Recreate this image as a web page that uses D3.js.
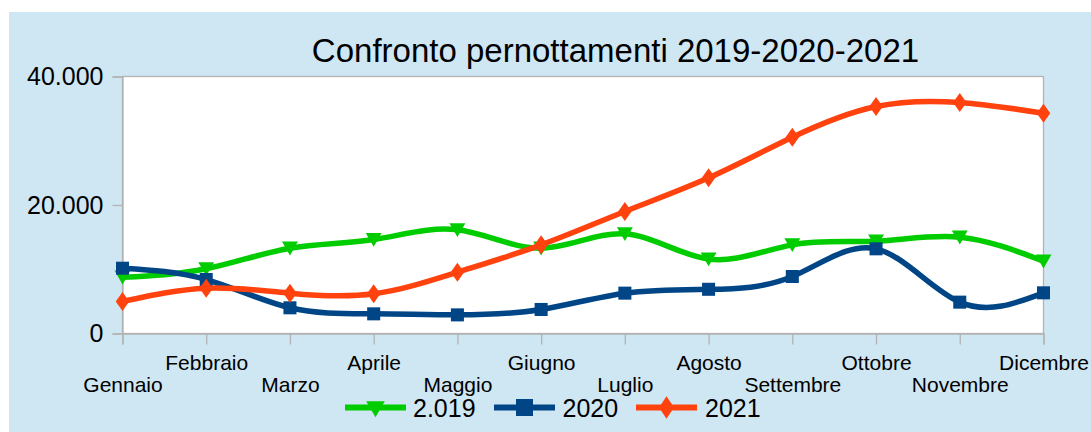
<!DOCTYPE html>
<html>
<head>
<meta charset="utf-8">
<script src="https://cdn.jsdelivr.net/npm/d3@7"></script>
<style>
  html, body { margin: 0; padding: 0; background: #ffffff; }
  svg { display: block; font-family: "Liberation Sans", Arial, sans-serif; }
</style>
</head>
<body>
<svg id="chart" width="1091" height="432"></svg>
<script>
const months = ["Gennaio","Febbraio","Marzo","Aprile","Maggio","Giugno","Luglio","Agosto","Settembre","Ottobre","Novembre","Dicembre"];
const values2019 = [8760, 10070, 13280, 14630, 16140, 13280, 15520, 11580, 13800, 14370, 14990, 11250];
const values2020 = [10160, 8400, 4000, 3060, 2900, 3740, 6280, 6880, 8870, 13180, 4880, 6330];
const values2021 = [4980, 7050, 6270, 6180, 9540, 13800, 18990, 24230, 30550, 35330, 35950, 34290];
const seriesNames = ["2.019", "2020", "2021"];
const yTicks = [0, 20000, 40000];
const titleText = "Confronto pernottamenti 2019-2020-2021";

const colors = ["#00cc00", "#004586", "#ff420e"];
const symbols = [d3.symbolTriangle, d3.symbolSquare, d3.symbolDiamond];
const allValues = [values2019, values2020, values2021];

const svg = d3.select("#chart");
const W = 1091, H = 432;
const plot = { left: 122.5, top: 76.5, right: 1043.5, bottom: 333.5 };

// background
svg.append("rect").attr("x", 9).attr("y", 12).attr("width", W - 9).attr("height", H - 12).attr("fill", "#cfe6f3");
svg.append("rect").attr("x", plot.left).attr("y", plot.top)
  .attr("width", plot.right - plot.left).attr("height", plot.bottom - plot.top)
  .attr("fill", "#ffffff").attr("stroke", "#b3b3b3").attr("stroke-width", 1.3);

const x = d3.scalePoint().domain(months).range([plot.left, plot.right]);
const y = d3.scaleLinear().domain([0, 40000]).range([plot.bottom, plot.top]);

const it = d3.formatLocale({ decimal: ",", thousands: ".", grouping: [3], currency: ["€", ""] });
const fmt = it.format(",d");

// y axis
const yAxis = d3.axisLeft(y).tickValues(yTicks).tickFormat(fmt).tickSize(10).tickPadding(9);
const gy = svg.append("g").attr("transform", `translate(${plot.left},0)`).call(yAxis);
gy.select(".domain").attr("stroke", "#b3b3b3").attr("stroke-width", 1.3);
gy.selectAll(".tick line").attr("stroke", "#b3b3b3").attr("stroke-width", 1.3);
gy.selectAll(".tick text").attr("font-size", "25px").attr("fill", "#000").attr("font-family", "Liberation Sans, Arial, sans-serif");

// x axis
const xAxis = d3.axisBottom(x).tickSize(11).tickPadding(8);
const gx = svg.append("g").attr("transform", `translate(0,${plot.bottom})`).call(xAxis);
gx.select(".domain").attr("stroke", "#b3b3b3").attr("stroke-width", 1.3);
gx.selectAll(".tick line").attr("stroke", "#b3b3b3").attr("stroke-width", 1.3);
gx.selectAll(".tick text")
  .attr("font-size", "21px").attr("fill", "#000").attr("font-family", "Liberation Sans, Arial, sans-serif")
  .attr("dy", null)
  .attr("y", (d, i) => i % 2 === 1 ? 36.5 : 58.5);

// lines
const line = d3.line().x((d, i) => x(months[i])).y(d => y(d)).curve(d3.curveNatural);
allValues.forEach((vals, s) => {
  const g = svg.append("g");
  g.append("path").datum(vals).attr("d", line)
    .attr("fill", "none").attr("stroke", colors[s]).attr("stroke-width", 5.5).attr("stroke-linejoin", "round");
  g.selectAll("path.m").data(vals).enter().append("path").attr("class", "m")
    .attr("d", d3.symbol().type(symbols[s]).size(s === 0 ? 110 : s === 1 ? 170 : 130))
    .attr("transform", (d, i) => `translate(${x(months[i])},${y(d)})${s === 0 ? " rotate(180) translate(0,2)" : ""}${s === 2 ? " scale(1.1,0.9)" : ""}`)
    .attr("fill", colors[s]);
});

// title
svg.append("text").attr("x", 615.5).attr("y", 62).attr("text-anchor", "middle")
  .attr("font-size", "33px").attr("fill", "#000").text(titleText);

// legend
const legendItems = [
  { lx: 345, tx: 413 },
  { lx: 494, tx: 562.5 },
  { lx: 636, tx: 705 }
];
const ly = 407.5;
legendItems.forEach((it, s) => {
  const g = svg.append("g");
  g.append("line").attr("x1", it.lx).attr("x2", it.lx + 61).attr("y1", ly).attr("y2", ly)
    .attr("stroke", colors[s]).attr("stroke-width", 6);
  g.append("path")
    .attr("d", d3.symbol().type(symbols[s]).size(s === 0 ? 150 : s === 1 ? 290 : 160))
    .attr("transform", `translate(${it.lx + 30.5},${ly})${s === 0 ? " rotate(180) translate(0,1)" : ""}${s === 2 ? " scale(1.1,0.95)" : ""}`)
    .attr("fill", colors[s]);
  g.append("text").attr("x", it.tx).attr("y", ly + 9).attr("font-size", "25px").attr("fill", "#000").text(seriesNames[s]);
});
</script>
</body>
</html>
